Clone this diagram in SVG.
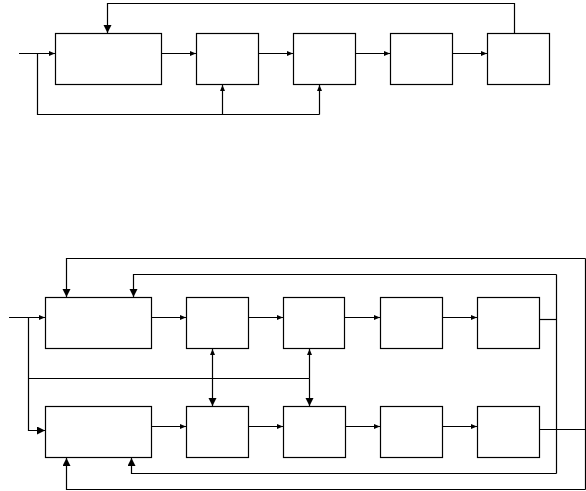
<svg xmlns="http://www.w3.org/2000/svg" width="586" height="491" viewBox="0 0 586 491">
<style>
.box{fill:#fff;stroke:#000;stroke-width:1.2}
.ln{fill:none;stroke:#000;stroke-width:1.2}
</style>
<defs>
<marker id="as" markerUnits="userSpaceOnUse" markerWidth="8" markerHeight="8" refX="6" refY="3" orient="auto"><path d="M0,0.5 L6,3 L0,5.5 Z" fill="#000"/></marker>
<marker id="al" markerUnits="userSpaceOnUse" markerWidth="10" markerHeight="10" refX="8" refY="4" orient="auto"><path d="M0,0 L8,4 L0,8 Z" fill="#000"/></marker>
</defs>
<rect width="586" height="491" fill="#fff"/>
<g id="top-b1"><rect class="box" x="55.5" y="33.5" width="106" height="51"/></g>
<g id="top-b2"><rect class="box" x="196.5" y="33.5" width="62" height="51"/></g>
<g id="top-b3"><rect class="box" x="293.5" y="33.5" width="62" height="51"/></g>
<g id="top-b4"><rect class="box" x="390.5" y="33.5" width="62" height="51"/></g>
<g id="top-b5"><rect class="box" x="487.5" y="33.5" width="62" height="51"/></g>
<g id="a-b1"><rect class="box" x="45.5" y="297.5" width="106" height="51"/></g>
<g id="a-b2"><rect class="box" x="186.5" y="297.5" width="62" height="51"/></g>
<g id="a-b3"><rect class="box" x="283.5" y="297.5" width="61" height="51"/></g>
<g id="a-b4"><rect class="box" x="380.5" y="297.5" width="62" height="51"/></g>
<g id="a-b5"><rect class="box" x="477.5" y="297.5" width="62" height="51"/></g>
<g id="b-b1"><rect class="box" x="45.5" y="406.5" width="106" height="51"/></g>
<g id="b-b2"><rect class="box" x="186.5" y="406.5" width="62" height="51"/></g>
<g id="b-b3"><rect class="box" x="283.5" y="406.5" width="62" height="51"/></g>
<g id="b-b4"><rect class="box" x="380.5" y="406.5" width="62" height="51"/></g>
<g id="b-b5"><rect class="box" x="477.5" y="406.5" width="62" height="51"/></g>
<g id="connectors">
<path class="ln" d="M19 53.5 H55" marker-end="url(#as)"/>
<path class="ln" d="M162 53.5 H196" marker-end="url(#as)"/>
<path class="ln" d="M259 53.5 H293" marker-end="url(#as)"/>
<path class="ln" d="M356 53.5 H390" marker-end="url(#as)"/>
<path class="ln" d="M453 53.5 H487" marker-end="url(#as)"/>
<path class="ln" d="M37.5 53.5 V114.5 H319.5"/>
<path class="ln" d="M222.5 114.5 V85" marker-end="url(#as)"/>
<path class="ln" d="M319.5 114.5 V85" marker-end="url(#as)"/>
<path class="ln" d="M514.5 33 V3.5 H107.5 V33" marker-end="url(#al)"/>
<path class="ln" d="M9 317.5 H45" marker-end="url(#as)"/>
<path class="ln" d="M152 317.5 H186" marker-end="url(#as)"/>
<path class="ln" d="M249 317.5 H283" marker-end="url(#as)"/>
<path class="ln" d="M345 317.5 H380" marker-end="url(#as)"/>
<path class="ln" d="M443 317.5 H477" marker-end="url(#as)"/>
<path class="ln" d="M152 426.5 H186" marker-end="url(#as)"/>
<path class="ln" d="M249 426.5 H283" marker-end="url(#as)"/>
<path class="ln" d="M346 426.5 H380" marker-end="url(#as)"/>
<path class="ln" d="M443 426.5 H477" marker-end="url(#as)"/>
<path class="ln" d="M28.5 317.5 V430.5 H45" marker-end="url(#al)"/>
<path class="ln" d="M28.5 378.5 H309.5"/>
<path class="ln" d="M212.5 378.5 V349" marker-end="url(#as)"/>
<path class="ln" d="M212.5 378.5 V406" marker-end="url(#al)"/>
<path class="ln" d="M309.5 378.5 V349" marker-end="url(#as)"/>
<path class="ln" d="M309.5 378.5 V406" marker-end="url(#al)"/>
<path class="ln" d="M540 429.5 H585.5"/>
<path class="ln" d="M585.5 258.5 V489.5"/>
<path class="ln" d="M585.5 258.5 H66.5 V297" marker-end="url(#al)"/>
<path class="ln" d="M585.5 489.5 H66.5 V458" marker-end="url(#al)"/>
<path class="ln" d="M540 319.5 H556.5"/>
<path class="ln" d="M556.5 274.5 V473.5"/>
<path class="ln" d="M556.5 274.5 H133.5 V297" marker-end="url(#al)"/>
<path class="ln" d="M556.5 473.5 H131.5 V458" marker-end="url(#al)"/>
</g>
</svg>
